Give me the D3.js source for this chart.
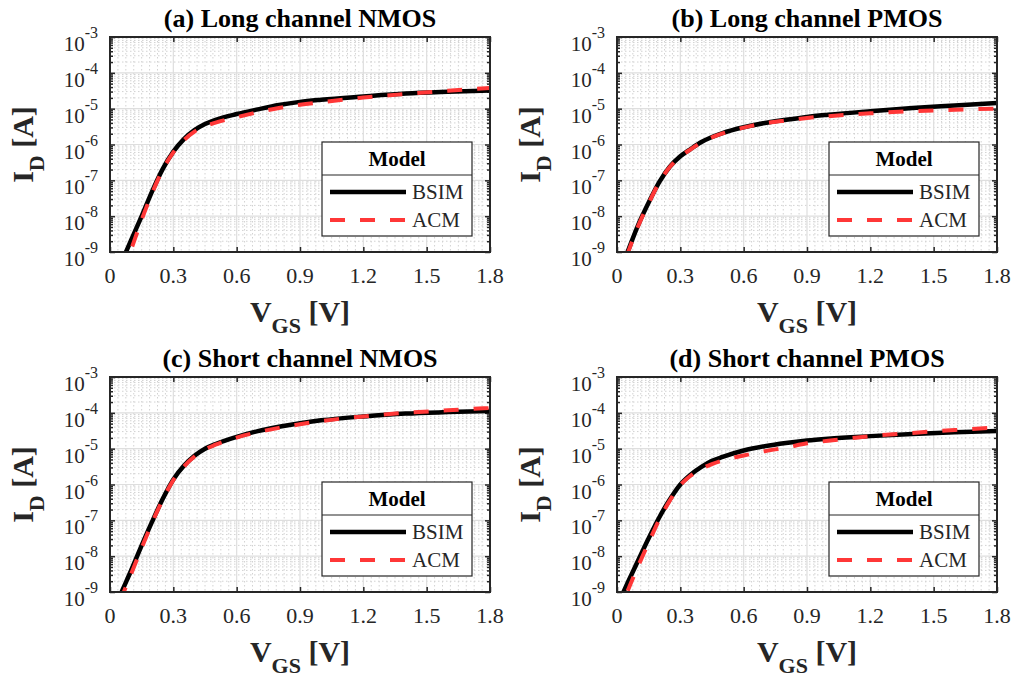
<!DOCTYPE html>
<html>
<head>
<meta charset="utf-8">
<script src="https://cdn.jsdelivr.net/npm/d3@7"></script>
<style>
  body { margin: 0; background: #fff; }
  svg { font-family: "Liberation Serif", "Times New Roman", serif; }
</style>
</head>
<body>
<div id="chart"></div>
<script>
// Gate voltage samples (V), shared by every panel
var vgs = [0, 0.05, 0.1, 0.15, 0.2, 0.25, 0.3, 0.35, 0.4, 0.45, 0.5, 0.6, 0.7, 0.8, 0.9, 1.0, 1.2, 1.4, 1.6, 1.8];

// log10(I_D [A])
var longNmosBsim  = [-10.05, -9.35, -8.67, -8.00, -7.30, -6.68, -6.20, -5.85, -5.60, -5.43, -5.31, -5.15, -5.02, -4.90, -4.81, -4.75, -4.66, -4.58, -4.53, -4.49];
var longNmosAcm   = [-10.40, -9.68, -8.93, -8.10, -7.35, -6.70, -6.22, -5.88, -5.64, -5.49, -5.39, -5.24, -5.10, -4.98, -4.89, -4.82, -4.69, -4.59, -4.50, -4.42];
var longPmosBsim  = [-9.75, -9.00, -8.25, -7.62, -7.05, -6.62, -6.33, -6.12, -5.93, -5.79, -5.68, -5.52, -5.40, -5.31, -5.23, -5.17, -5.07, -4.98, -4.91, -4.84];
var longPmosAcm   = [-9.90, -9.05, -8.28, -7.64, -7.06, -6.63, -6.34, -6.13, -5.94, -5.80, -5.69, -5.53, -5.41, -5.33, -5.26, -5.21, -5.13, -5.07, -5.03, -5.00];
var shortNmosBsim = [-9.80, -9.07, -8.40, -7.70, -7.03, -6.40, -5.86, -5.48, -5.20, -5.00, -4.87, -4.67, -4.51, -4.39, -4.29, -4.21, -4.10, -4.02, -3.98, -3.95];
var shortNmosAcm  = [-10.05, -9.23, -8.50, -7.77, -7.06, -6.42, -5.88, -5.50, -5.22, -5.02, -4.89, -4.69, -4.54, -4.42, -4.32, -4.23, -4.10, -4.00, -3.93, -3.86];
var shortPmosBsim = [-9.40, -8.75, -8.12, -7.50, -6.92, -6.42, -6.00, -5.72, -5.51, -5.34, -5.23, -5.05, -4.93, -4.84, -4.77, -4.72, -4.65, -4.59, -4.54, -4.51];
var shortPmosAcm  = [-9.75, -8.98, -8.28, -7.62, -6.98, -6.45, -6.02, -5.75, -5.56, -5.43, -5.33, -5.19, -5.07, -4.97, -4.85, -4.78, -4.65, -4.56, -4.48, -4.41];

var titles = ['(a) Long channel NMOS', '(b) Long channel PMOS', '(c) Short channel NMOS', '(d) Short channel PMOS'];
var seriesNames = ['BSIM', 'ACM'];
var xTicks = [0, 0.3, 0.6, 0.9, 1.2, 1.5, 1.8];
var xTickLabels = ['0', '0.3', '0.6', '0.9', '1.2', '1.5', '1.8'];
var yExponents = [-9, -8, -7, -6, -5, -4, -3];

var panelData = [
    [longNmosBsim, longNmosAcm],
    [longPmosBsim, longPmosAcm],
    [shortNmosBsim, shortNmosAcm],
    [shortPmosBsim, shortPmosAcm]
];

var W = 1016, H = 680;
var pw = 380, ph = 215;
var origins = [[110, 37], [617, 37], [110, 377], [617, 377]];
var axisColor = '#262626';
var red = '#ff3737';

var svg = d3.select('#chart').append('svg')
    .attr('width', W)
    .attr('height', H);

var defs = svg.append('defs');

var x = d3.scaleLinear().domain([0, 1.8]).range([0, pw]);
var y = d3.scaleLog().domain([1e-9, 1e-3]).range([ph, 0]);

// minor tick positions
var xMinor = d3.range(0.0375, 1.8, 0.0375).filter(function (v) {
    return Math.abs(v / 0.3 - Math.round(v / 0.3)) > 1e-6;
});
var yMinor = [];
yExponents.slice(0, -1).forEach(function (e) {
    for (var m = 2; m <= 9; m++) yMinor.push(m * Math.pow(10, e));
});

var line = d3.line()
    .x(function (d) { return x(d[0]); })
    .y(function (d) { return y(Math.pow(10, d[1])); })
    .curve(d3.curveMonotoneX);

panelData.forEach(function (pair, i) {
    var g = svg.append('g')
        .attr('transform', 'translate(' + origins[i][0] + ',' + origins[i][1] + ')');

    defs.append('clipPath').attr('id', 'clip' + i)
        .append('rect').attr('width', pw).attr('height', ph);

    // minor grid
    g.append('g').selectAll('line').data(xMinor).enter().append('line')
        .attr('x1', function (d) { return x(d); }).attr('x2', function (d) { return x(d); })
        .attr('y1', 0).attr('y2', ph)
        .attr('stroke', '#d2d2d2').attr('stroke-width', 1).attr('stroke-dasharray', '1.5,2.5');
    g.append('g').selectAll('line').data(yMinor).enter().append('line')
        .attr('y1', function (d) { return y(d); }).attr('y2', function (d) { return y(d); })
        .attr('x1', 0).attr('x2', pw)
        .attr('stroke', '#d2d2d2').attr('stroke-width', 1).attr('stroke-dasharray', '1.5,2.5');

    // major grid
    g.append('g').selectAll('line').data(xTicks.slice(1, -1)).enter().append('line')
        .attr('x1', function (d) { return x(d); }).attr('x2', function (d) { return x(d); })
        .attr('y1', 0).attr('y2', ph)
        .attr('stroke', '#dedede').attr('stroke-width', 1.2);
    g.append('g').selectAll('line').data(yExponents.slice(1, -1)).enter().append('line')
        .attr('y1', function (d) { return y(Math.pow(10, d)); }).attr('y2', function (d) { return y(Math.pow(10, d)); })
        .attr('x1', 0).attr('x2', pw)
        .attr('stroke', '#dedede').attr('stroke-width', 1.2);

    // axes with inward ticks on all four sides
    var majorY = yExponents.map(function (e) { return Math.pow(10, e); });
    g.append('g').attr('transform', 'translate(0,' + ph + ')')
        .call(d3.axisTop(x).tickValues(xTicks).tickSize(5).tickFormat(''));
    g.append('g')
        .call(d3.axisBottom(x).tickValues(xTicks).tickSize(5).tickFormat(''));
    g.append('g')
        .call(d3.axisRight(y).tickValues(majorY).tickSize(5).tickFormat(''));
    g.append('g')
        .call(d3.axisRight(y).tickValues(yMinor).tickSize(3).tickFormat(''));
    g.append('g').attr('transform', 'translate(' + pw + ',0)')
        .call(d3.axisLeft(y).tickValues(majorY).tickSize(5).tickFormat(''));
    g.append('g').attr('transform', 'translate(' + pw + ',0)')
        .call(d3.axisLeft(y).tickValues(yMinor).tickSize(3).tickFormat(''));
    g.selectAll('.domain').remove();
    g.selectAll('.tick line').attr('stroke', axisColor).attr('stroke-width', 1.5);

    // curves
    var curves = g.append('g').attr('clip-path', 'url(#clip' + i + ')');
    curves.append('path')
        .datum(d3.zip(vgs, pair[0]))
        .attr('d', line)
        .attr('fill', 'none')
        .attr('stroke', '#000')
        .attr('stroke-width', 4.5);
    curves.append('path')
        .datum(d3.zip(vgs, pair[1]))
        .attr('d', line)
        .attr('fill', 'none')
        .attr('stroke', red)
        .attr('stroke-width', 4)
        .attr('stroke-dasharray', '15,15');

    // box
    g.append('rect')
        .attr('width', pw).attr('height', ph)
        .attr('fill', 'none')
        .attr('stroke', axisColor)
        .attr('stroke-width', 2);

    // x tick labels
    g.append('g').selectAll('text').data(xTicks).enter().append('text')
        .attr('x', function (d) { return x(d); })
        .attr('y', ph + 31)
        .attr('text-anchor', 'middle')
        .style('font-size', '22px')
        .attr('fill', axisColor)
        .text(function (d, k) { return xTickLabels[k]; });

    // y tick labels 10^n
    var yl = g.append('g').selectAll('text').data(yExponents).enter().append('text')
        .attr('x', -12)
        .attr('y', function (d) { return y(Math.pow(10, d)) + 14; })
        .attr('text-anchor', 'end')
        .style('font-size', '21px')
        .attr('fill', axisColor);
    yl.append('tspan').text('10');
    yl.append('tspan')
        .attr('dy', -13)
        .style('font-size', '16px')
        .text(function (d) { return d; });

    // title
    g.append('text')
        .attr('x', pw / 2)
        .attr('y', -10)
        .attr('text-anchor', 'middle')
        .style('font-size', '26px')
        .style('font-weight', 'bold')
        .text(titles[i]);

    // x label
    var xl = g.append('text')
        .attr('x', pw / 2)
        .attr('y', ph + 70)
        .attr('text-anchor', 'middle')
        .style('font-size', '30px')
        .style('font-weight', 'bold')
        .attr('fill', axisColor);
    xl.append('tspan').text('V');
    xl.append('tspan').attr('dy', 11).style('font-size', '22px').text('GS');
    xl.append('tspan').attr('dy', -11).text(' [V]');

    // y label
    var ylab = g.append('text')
        .attr('transform', 'translate(-77,' + (ph / 2) + ') rotate(-90)')
        .attr('text-anchor', 'middle')
        .style('font-size', '30px')
        .style('font-weight', 'bold')
        .attr('fill', axisColor);
    ylab.append('tspan').text('I');
    ylab.append('tspan').attr('dy', 11).style('font-size', '22px').text('D');
    ylab.append('tspan').attr('dy', -11).text(' [A]');

    // legend
    var lg = g.append('g').attr('transform', 'translate(' + (pw - 168) + ',105)');
    lg.append('rect')
        .attr('width', 150).attr('height', 94)
        .attr('fill', '#fff')
        .attr('stroke', axisColor)
        .attr('stroke-width', 1.2);
    lg.append('line')
        .attr('x1', 0).attr('x2', 150).attr('y1', 33).attr('y2', 33)
        .attr('stroke', axisColor).attr('stroke-width', 1.2);
    lg.append('text')
        .attr('x', 75).attr('y', 24)
        .attr('text-anchor', 'middle')
        .style('font-size', '21px')
        .style('font-weight', 'bold')
        .text('Model');
    seriesNames.forEach(function (name, k) {
        var ly = 50 + k * 28;
        lg.append('line')
            .attr('x1', 8).attr('x2', 84).attr('y1', ly).attr('y2', ly)
            .attr('stroke', k === 0 ? '#000' : red)
            .attr('stroke-width', k === 0 ? 4.5 : 4)
            .attr('stroke-dasharray', k === 0 ? null : '15,15');
        lg.append('text')
            .attr('x', 90).attr('y', ly + 7)
            .style('font-size', '21px')
            .attr('fill', axisColor)
            .text(name);
    });
});
</script>
</body>
</html>
